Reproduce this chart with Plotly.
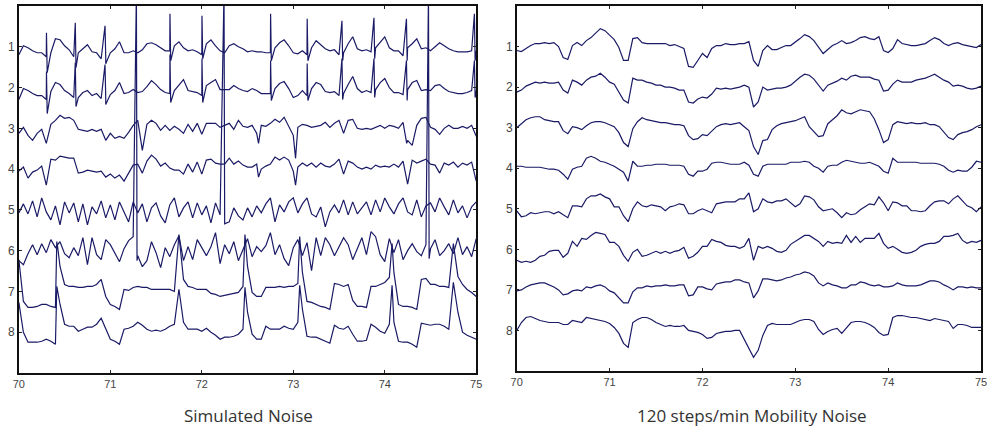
import plotly.graph_objects as go

# ---------------- data (signal offsets, px-like units, positive = up) ----------------
T = [round(70 + 0.05 * i, 3) for i in range(101)]   # common time grid, s
CHANNELS = ["1", "2", "3", "4", "5", "6", "7", "8"]
X_TICKS = [70, 71, 72, 73, 74, 75]

# ---- Left panel: Simulated Noise ----
L1 = [-8, 1, -1, -4, -6, -6, -10, -6, 8, 7,
      1, -3, -10, -6, -2, 2, -5, -6, -12, -10,
      -6, -2, 5, -6, -6, -4, -6, -3, 3, 4,
      2, -1, -4, -4, 1, 5, -1, -4, -3, -5,
      -8, 3, 7, 1, -4, -6, 1, 3, 0, -2,
      -5, -4, -5, -5, -6, -6, -1, 4, 7, 1,
      -6, -7, -4, -8, -1, 6, 2, -2, -4, -3,
      -8, -6, 3, 10, -2, -4, -3, -5, -1, 4,
      10, -1, -4, -4, -9, -1, 3, 8, -2, -1,
      -4, 0, 4, 1, -2, -4, -5, -5, -5, -4,
      -4]
L2 = [-12, -1, -3, -6, -8, -8, -12, -4, 5, 3,
      -3, -6, -10, -10, -5, -3, -8, -6, -11, -10,
      -7, -3, 5, -6, -5, -2, -5, -4, 1, 7,
      3, -2, -5, -6, -3, 2, 8, -3, -4, -5,
      -8, 2, 5, 8, -2, -2, -2, 2, -1, -3,
      -4, -1, -3, -6, -6, -6, -1, 4, 6, -1,
      -10, -8, -3, -8, -1, 5, 3, -4, -5, -4,
      -8, -6, 3, 11, -1, -5, -3, -5, -2, 5,
      9, 0, -5, -5, -7, -2, 5, 7, -3, -2,
      -3, 2, 3, -1, -4, -5, -6, -6, -5, -3,
      -3]
L3 = [-5, 1, -7, -12, -5, -1, -15, 4, 8, 13,
      10, 11, 8, -1, -2, -3, -1, -3, -1, -12,
      -5, -10, -8, -10, -4, 3, 8, -22, 4, 8,
      5, -2, 3, -2, 2, -1, -5, 4, -3, 5,
      -6, 5, 5, 5, 1, 3, 5, -1, 8, 2,
      1, 3, -5, 3, 2, 5, 9, 6, 11, 2,
      -7, 1, 4, 3, 1, 2, 3, 6, 1, 5,
      8, -5, 8, 9, 0, -1, 0, -1, 1, 3,
      0, 3, 2, 0, 6, -12, -17, 3, 10, 11,
      1, -1, -6, 0, 3, 0, 0, 2, 0, 3,
      -8]
L4 = [-2, 2, -9, -3, -1, 3, -16, 10, 9, 13,
      12, 11, 11, -4, -3, -1, -2, -3, -2, -8,
      -5, -9, -6, -12, -4, 4, 5, -4, 8, 14,
      10, 3, 6, 1, -1, -1, -5, 5, -3, 7,
      -5, 9, 10, 6, 5, 5, 11, 5, 8, 4,
      2, 2, 5, 0, 3, 5, 12, 9, 12, 9,
      -2, 2, 6, 3, 6, 2, 6, 3, 2, 5,
      10, -5, 8, 6, 2, 0, 2, 0, 4, 2,
      3, 2, 5, 2, 8, -15, 9, 6, 8, 10,
      5, 4, -4, 6, 4, 7, 2, 6, 4, 7,
      -12]
L5 = [-3, 6, -4, 9, -7, 12, -2, -10, 4, -15,
      8, -3, 7, -12, 6, -15, 3, -4, 9, -8,
      5, -10, 8, -2, -12, 8, -3, 6, -12, 2,
      7, -6, -13, 5, 12, -7, 2, 8, -8, 7,
      -5, 4, -13, 7, -5, 5, -12, 2, -6, -10,
      2, -7, 4, -3, 6, 12, -12, 5, -2, 8,
      12, -3, 6, 12, -4, -7, 3, -17, -2, 5,
      -3, 10, -5, 8, -4, 2, 8, -5, 10, -2,
      12, 3, -4, 6, 12, -2, -5, 10, -7, 4,
      7, -2, 12, 3, -5, 10, -3, 4, -8, 3,
      8]
L6 = [-10, -14, -3, 6, -4, 7, -2, 11, 3, 9,
      -3, -7, 3, -5, 13, -14, 13, -4, -9, 11,
      6, -3, -11, 2, 10, 14, -5, -16, -10, 9,
      -2, -17, 3, -6, 6, 15, -10, 4, -9, 11,
      3, -5, 4, 18, -13, 6, -3, 9, -10, 2,
      12, -6, 4, -1, 5, 18, -4, 6, -8, -15,
      3, 11, -5, 8, -20, 13, -5, 13, 6, -5,
      4, 13, 6, -9, 2, 13, -4, 19, 14, -4,
      -11, 12, -2, 11, -9, 0, 7, -1, -5, 6,
      2, 11, -5, 0, 7, -3, 13, -4, 4, -6,
      12]
L7 = [32, -10, -16, -16, -15, -13, -13, -15, -16, 25,
      7, 5, 5, 4, 4, 5, 5, 7, 12, -5,
      -13, -15, -18, 2, 1, 4, 5, 4, 4, 2,
      2, 2, 2, 2, 0, 57, 12, 5, 4, 2,
      2, 2, -2, -3, -5, -4, -3, -2, -1, 5,
      25, -1, -5, -5, 4, 4, 4, 5, 4, 5,
      5, 8, 19, -10, -11, -13, -15, -16, -18, 8,
      7, 5, 7, -9, -15, -15, -16, 5, 5, 7,
      9, 14, 19, -13, -15, -15, -16, -18, 12, 13,
      7, 7, 5, 5, 4, 48, 15, 7, 2, -1,
      -5]
L8 = [30, 0, -10, -10, -10, -9, -7, -9, -12, 28,
      8, 6, 6, 1, 3, 5, 5, 8, 14, 3,
      -7, -9, -12, 3, 4, 6, 10, 7, 3, 1,
      2, 1, 3, 6, 8, 43, 10, 3, 3, 3,
      1, 4, 0, -3, -7, -5, -5, -4, -2, 3,
      20, -2, -7, -7, 6, 3, 3, 3, 6, 4,
      3, 10, 23, -4, -5, -5, -7, -9, -11, 7,
      4, 3, 6, -2, -9, -9, -8, 8, 5, 1,
      -1, 8, 10, -9, -10, -10, -12, -15, 9, 8,
      7, 8, 8, 6, 3, 50, 20, 0, -3, -5,
      -7]

# sharp spikes / artifacts read between grid samples (time, value)
L1_ext_t = [70.302, 70.31, 70.617, 70.625, 70.942, 70.95, 71.652, 71.66, 72.002, 72.01,
            72.752, 72.76, 73.152, 73.16, 73.532, 73.54, 73.882, 73.89, 74.237, 74.245, 74.98, 74.988]
L1_ext_v = [14, -26, 24, -21, 21, -17, 33, -14, 31, -12,
            33, -14, 28, -14, 26, -14, 29, -12, 28, -14, 33, -14]
L2_ext_t = L1_ext_t
L2_ext_v = [16, -26, 25, -19, 23, -17, 33, -15, 29, -15,
            27, -13, 24, -13, 29, -12, 29, -10, 27, -13, 27, -10]
L3_ext_t = [72.62, 73.025, 74.24]
L3_ext_v = [-15, -30, -15]
L4_ext_t = [72.62, 73.025]
L4_ext_v = [-8, -16]
L5_ext_t = [72.243, 72.25]
L5_ext_v = [220, -14]
L6_ext_t = [71.285, 71.292, 74.478, 74.485]
L6_ext_v = [260, -10, 260, -8]
L7_ext_t = [70.415, 70.425, 72.472, 73.07, 74.08]
L7_ext_v = [50, 44, 57, 55, 48]
L8_ext_t = [70.415, 70.425, 72.472, 73.07, 74.08]
L8_ext_v = [46, 40, 45, 47, 47]

# ---- Right panel: 120 steps/min Mobility Noise ----
R1 = [-4, -5, -2, 1, 3, 3, 4, 3, 4, 0,
      -11, -13, 1, 4, 1, 6, 9, 14, 18, 16,
      11, 7, -1, -14, -14, 8, 9, 4, 3, 3,
      3, 3, 3, 1, 2, 0, -2, -20, -21, -14,
      -7, -11, -2, 1, 1, 3, 2, 2, 3, 3,
      5, -14, -20, -4, 1, -3, -3, -1, 1, 1,
      5, 8, 12, 10, 6, 0, -7, -3, 1, 3,
      6, 3, 4, 6, 9, 10, 8, 7, 10, -4,
      -6, -2, 7, 3, 2, 1, 1, 2, 3, 6,
      9, 7, 3, 1, 3, 4, 2, 1, 0, -1,
      2]
R2 = [-5, -3, 1, 3, 5, 4, 5, 4, 4, 5,
      -3, -6, 7, 5, 2, 7, 10, 11, 14, 10,
      5, 3, -5, -13, -16, 9, 7, 7, 5, 4,
      2, 2, 0, 0, -1, -3, -3, -15, -16, -12,
      -10, -11, -7, -1, -2, -1, -2, -1, 0, 2,
      0, -20, -15, 0, -3, -2, -1, -1, 0, 2,
      6, 10, 13, 12, 8, 2, -4, 2, 4, 6,
      9, 7, 11, 12, 10, 10, 10, 8, 7, -4,
      -3, 3, 7, 5, 5, 5, 7, 8, 9, 11,
      13, 10, 7, 5, 1, 2, 1, -1, -2, -1,
      1]
R3 = [0, 4, 8, 10, 11, 11, 8, 7, 6, 6,
      -3, -6, 1, 0, -2, 2, 5, 6, 6, 5,
      3, 1, -5, -15, -19, -1, 6, 10, 8, 7,
      6, 5, 5, 4, 3, 3, 2, -8, -12, -11,
      -7, -8, -3, 1, 3, 4, 3, 4, 5, 1,
      -3, -19, -27, -13, -12, -2, 2, 4, 5, 6,
      7, 9, 11, 1, -4, -9, -8, 4, 8, 12,
      18, 15, 14, 16, 18, 17, 16, 9, -2, -15,
      -12, 3, 6, 5, 4, 5, 4, 4, 5, 3,
      3, 1, -5, -10, -12, -7, -5, -4, -2, 1,
      3]
R4 = [2, 2, 1, 1, 1, 1, 0, -1, -1, -2,
      -6, -11, -1, 1, 2, 10, 12, 10, 7, 6,
      4, 2, -1, -4, -13, 7, 2, 2, 3, 3,
      4, 4, 4, 3, 3, 3, 2, -6, -8, -3,
      -3, -1, 5, 6, 6, 5, 4, 4, 4, 6,
      3, -6, -8, 2, 4, 4, 4, 4, 4, 6,
      6, 6, 7, 6, 2, 0, -4, 2, 3, 3,
      6, 8, 7, 6, 5, 5, 6, 4, 2, -3,
      -5, 10, 6, 6, 6, 6, 6, 5, 5, 5,
      5, 4, 2, -2, -4, -2, -3, -3, 1, 7,
      6]
R5 = [-2, -8, -7, -4, -5, -4, -3, -3, -5, -3,
      -6, -9, 3, 3, 2, 10, 13, 13, 15, 12,
      10, 2, 2, -7, -13, 0, 7, 3, 2, 4,
      3, 2, -2, 2, 3, 5, 4, -5, -5, -2,
      0, -2, -4, 5, 6, 7, 7, 7, 10, 10,
      16, -3, 0, 10, 7, 6, 8, 8, 10, 6,
      2, 5, 13, 12, 9, 2, -2, -1, 0, -4,
      -9, -4, -6, -5, -1, 2, 5, 4, 12, 6,
      -2, 7, 6, 3, 3, -2, -2, -3, -2, 3,
      7, 8, 8, 5, 10, 13, 8, 3, 1, -3,
      2]
R6 = [-11, -13, -12, -13, -11, -7, -6, -2, -1, -1,
      -8, -4, 8, 3, 11, 10, 14, 17, 16, 15,
      7, 7, 3, -6, -12, -3, 0, -7, -6, -4,
      -2, -4, -2, -4, -2, -1, 2, -9, -7, -3,
      3, 3, 10, 8, 7, 4, 3, 3, 1, 3,
      11, -11, 3, 1, 3, 1, -2, -3, -1, 5,
      8, 11, 14, 14, 11, 8, 3, 8, 6, 7,
      6, 14, 7, 13, 7, 11, 11, 11, 16, 6,
      1, 3, 0, -3, -4, -3, -1, 3, 5, 6,
      6, 8, 13, 13, 14, 16, 9, 6, 8, 7,
      9]
R7 = [-1, 0, 3, 5, 6, 7, 7, 5, 3, 0,
      -5, -4, -1, 0, -1, 3, 2, 4, 5, 3,
      -1, -3, -8, -13, -13, -2, 2, 2, 4, 3,
      4, 4, 5, 4, 4, 5, 5, -6, -5, 3,
      3, 1, 0, 6, 7, 8, 8, 10, 10, 8,
      7, -8, -1, 11, 11, 10, 9, 10, 12, 13,
      15, 16, 18, 17, 14, 7, 4, 7, 5, 4,
      2, 2, 5, 5, 8, 7, 5, 4, 5, 3,
      3, 4, 7, 5, 4, 4, 4, 5, 7, 9,
      9, 8, 5, 3, 0, 3, 3, 2, 3, 2,
      2]
R8 = [0, 8, 13, 14, 12, 10, 9, 8, 8, 8,
      6, 6, 10, 9, 8, 13, 12, 11, 10, 9,
      7, 3, -3, -13, -17, 8, 11, 13, 13, 11,
      8, 6, 4, 5, 4, 4, 5, 0, -1, -2,
      -4, -8, -7, -3, -2, -1, -1, 0, 0, -9,
      -17, -27, -20, -5, 5, 7, 6, 6, 6, 6,
      8, 10, 11, 11, 9, 1, -4, -1, 1, 2,
      -3, 3, 8, 9, 9, 8, 6, 3, -2, -5,
      -4, 13, 15, 15, 14, 13, 13, 12, 11, 10,
      12, 11, 10, 9, 2, 6, 6, 5, 3, 3,
      3]

TITLE_LEFT = "Simulated Noise"
TITLE_RIGHT = "120 steps/min Mobility Noise"

# ---------------- build figure ----------------
GAIN = 1 / 40.8          # display gain: offset units per channel spacing
LINE = "#1a1a66"

def merged(vals, ext_t=(), ext_v=()):
    pts = list(zip(T, vals)) + list(zip(ext_t, ext_v))
    pts.sort(key=lambda p: p[0])
    return [p[0] for p in pts], [p[1] for p in pts]

left = [(L1, L1_ext_t, L1_ext_v), (L2, L2_ext_t, L2_ext_v), (L3, L3_ext_t, L3_ext_v),
        (L4, L4_ext_t, L4_ext_v), (L5, L5_ext_t, L5_ext_v), (L6, L6_ext_t, L6_ext_v),
        (L7, L7_ext_t, L7_ext_v), (L8, L8_ext_t, L8_ext_v)]
right = [R1, R2, R3, R4, R5, R6, R7, R8]

for name, arr in [("L%d" % (k + 1), a[0]) for k, a in enumerate(left)] + \
                 [("R%d" % (k + 1), a) for k, a in enumerate(right)]:
    if len(arr) != len(T):
        raise ValueError("%s has %d values" % (name, len(arr)))

fig = go.Figure()
for k, (vals, et, ev) in enumerate(left):
    xs, vs = merged(vals, et, ev)
    fig.add_trace(go.Scatter(x=xs, y=[(k + 1) - v * GAIN for v in vs], mode="lines",
                             line=dict(color=LINE, width=1.2), xaxis="x", yaxis="y",
                             showlegend=False, hoverinfo="skip"))
for k, vals in enumerate(right):
    fig.add_trace(go.Scatter(x=T, y=[(k + 1) - v * GAIN for v in vals], mode="lines",
                             line=dict(color=LINE, width=1.2), xaxis="x2", yaxis="y2",
                             showlegend=False, hoverinfo="skip"))

W, H = 990, 434
tick_font = dict(family="Liberation Sans Narrow, Arial Narrow, Liberation Sans, sans-serif",
                 size=11, color="#444444")
common_x = dict(range=[70, 75], tickvals=X_TICKS, ticktext=[str(v) for v in X_TICKS],
                ticks="inside", ticklen=3, tickcolor="#222", showgrid=False, zeroline=False,
                showline=True, linecolor="#111", linewidth=1.5, mirror="ticks",
                tickfont=tick_font)
common_y = dict(range=[9, 0], tickvals=list(range(1, 9)), ticktext=CHANNELS,
                ticks="inside", ticklen=3, tickcolor="#222", showgrid=False, zeroline=False,
                showline=True, linecolor="#111", linewidth=1.5, mirror="ticks",
                tickfont=dict(tick_font, size=12))

title_font = dict(family="Open Sans, sans-serif", size=17, color="#333333")
fig.update_layout(
    width=W, height=H, margin=dict(l=0, r=0, t=0, b=0),
    paper_bgcolor="white", plot_bgcolor="white",
    xaxis=dict(common_x, domain=[13 / W, 476 / W], anchor="y"),
    yaxis=dict(common_y, domain=[1 - 373 / H, 1 - 6 / H], anchor="x"),
    xaxis2=dict(common_x, domain=[517 / W, 987 / W], anchor="y2"),
    yaxis2=dict(common_y, domain=[1 - 371 / H, 1 - 6 / H], anchor="x2"),
    annotations=[
        dict(text=TITLE_LEFT, x=245 / W, y=1 - 415 / H, xref="paper", yref="paper",
             showarrow=False, xanchor="center", yanchor="middle", font=title_font),
        dict(text=TITLE_RIGHT, x=755 / W, y=1 - 415 / H, xref="paper", yref="paper",
             showarrow=False, xanchor="center", yanchor="middle", font=title_font),
    ],
)

fig.write_html("out.html")
